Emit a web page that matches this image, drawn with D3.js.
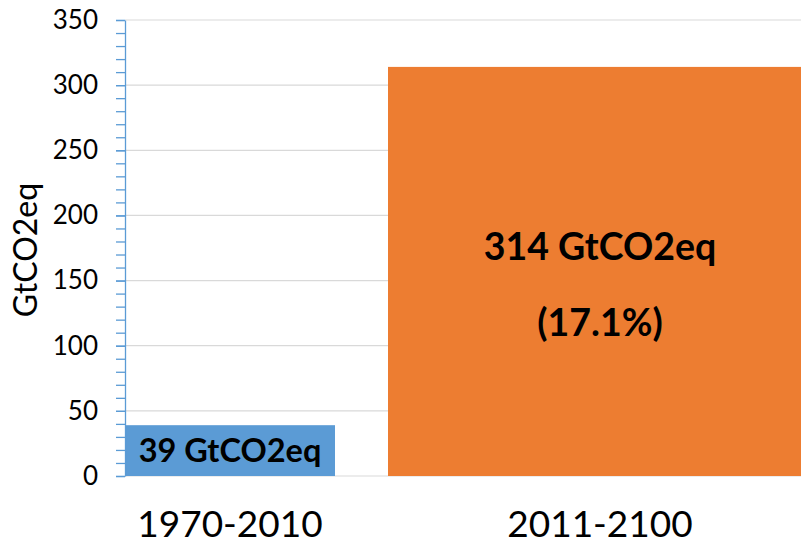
<!DOCTYPE html>
<html>
<head>
<meta charset="utf-8">
<script src="https://cdn.jsdelivr.net/npm/d3@7"></script>
<style>
  body { margin: 0; background: #fff; }
  svg { display: block; font-family: Lato, "Open Sans", sans-serif; }
</style>
</head>
<body>
<svg width="801" height="546"></svg>
<script>
// chart data
const periods = ["1970-2010", "2011-2100"];
const emissions = [39, 314];             // GtCO2eq
const barLabels = [["39 GtCO2eq"], ["314 GtCO2eq", "(17.1%)"]];
const yTicks = [0, 50, 100, 150, 200, 250, 300, 350];

const svg = d3.select("svg");
const W = +svg.attr("width");

const axisX = 125, plotTop = 20, plotBottom = 476;

// y scale, 0 - 350
const y = d3.scaleLinear().domain([0, 350]).range([plotBottom, plotTop]);

// categories, centred at 230 and 600
const x = d3.scaleBand().domain(periods).range([45, 785]).padding(0);

// bars are not the same width in the picture (blue starts at the axis, orange runs off the right edge)
const halfWidth = [105, 212];
const colors = ["#5B9BD5", "#ED7D31"];

// gridlines
svg.append("g")
  .selectAll("line")
  .data(yTicks)
  .enter().append("line")
  .attr("x1", axisX).attr("x2", W)
  .attr("y1", d => y(d)).attr("y2", d => y(d))
  .attr("stroke", "#d9d9d9").attr("stroke-width", 1.2);

// bars
svg.selectAll(".bar")
  .data(periods)
  .enter().append("rect")
  .attr("class", "bar")
  .attr("x", (d, i) => x(d) + x.bandwidth() / 2 - halfWidth[i])
  .attr("width", (d, i) => halfWidth[i] * 2)
  .attr("y", (d, i) => y(emissions[i]))
  .attr("height", (d, i) => y(0) - y(emissions[i]))
  .attr("fill", (d, i) => colors[i]);

// minor ticks every 10
svg.append("g")
  .attr("transform", `translate(${axisX},0)`)
  .call(d3.axisLeft(y).tickValues(d3.range(0, 351, 10)).tickSize(9).tickFormat(""))
  .call(g => g.select(".domain").remove())
  .call(g => g.selectAll("line").attr("stroke", "#5B9BD5").attr("stroke-width", 1.3));

// major axis
svg.append("g")
  .attr("transform", `translate(${axisX},0)`)
  .call(d3.axisLeft(y).tickValues(yTicks).tickSize(9).tickPadding(18).tickSizeOuter(0))
  .call(g => g.select(".domain").attr("stroke", "#5B9BD5").attr("stroke-width", 1.3))
  .call(g => g.selectAll("line").attr("stroke", "#5B9BD5").attr("stroke-width", 1.3))
  .call(g => g.selectAll("text")
    .attr("font-family", "Lato, sans-serif")
    .attr("font-size", 26)
    .attr("fill", "#000"));

// y title
svg.append("text")
  .attr("transform", `translate(37,250) rotate(-90)`)
  .attr("text-anchor", "middle")
  .attr("font-size", 32)
  .attr("fill", "#000")
  .text("GtCO2eq");

// category labels
svg.selectAll(".cat")
  .data(periods)
  .enter().append("text")
  .attr("class", "cat")
  .attr("x", d => x(d) + x.bandwidth() / 2)
  .attr("y", 537)
  .attr("text-anchor", "middle")
  .attr("font-size", 37)
  .attr("fill", "#000")
  .text(d => d);

// value labels inside bars
const labelSize = [32.5, 37.5];
const lineOffsets = [[11.5], [-11.5, 64.5]];
periods.forEach((p, i) => {
  barLabels[i].forEach((txt, j) => {
    svg.append("text")
      .attr("x", x(p) + x.bandwidth() / 2)
      .attr("y", y(emissions[i] / 2) + lineOffsets[i][j])
      .attr("text-anchor", "middle")
      .attr("font-weight", "bold")
      .attr("font-size", labelSize[i])
      .attr("fill", "#000")
      .text(txt);
  });
});
</script>
</body>
</html>
